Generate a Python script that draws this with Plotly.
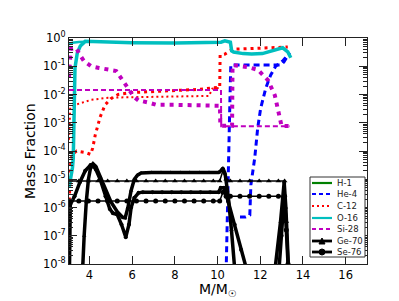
import plotly.graph_objects as go

# ---------------- data ----------------
h1_x = [3.04, 13.4]
h1_y = [1e-12, 1e-12]

he4a_x = [10.38, 10.40, 10.48, 10.57, 10.62, 11.0, 11.5, 12.0, 12.5, 12.91, 13.1, 13.29, 13.38]
he4a_y = [1e-9, 6.3e-9, 3.2e-6, 3.2e-3, 0.11, 0.11, 0.107, 0.107, 0.107, 0.11, 0.14, 0.25, 0.3]
he4b_x = [11.05, 11.3, 11.51, 11.53, 11.56, 11.74, 11.88, 12.02, 12.26, 12.49, 12.72, 13.05, 13.19, 13.29]
he4b_y = [4.6e-7, 4.6e-7, 5.4e-7, 1e-6, 6.3e-6, 5.6e-5, 6.5e-4, 3.3e-3, 1.7e-2, 4.9e-2, 0.1, 0.155, 0.2, 0.25]

c12a_x = [3.04, 3.1, 3.33, 3.7, 4.08, 4.5, 4.87, 5.5, 6.3, 7.0, 8.0, 9.0, 9.6, 9.75, 10.1]
c12a_y = [2.5e-4, 3.5e-3, 4.3e-3, 5.4e-3, 6.5e-3, 7.1e-3, 7.6e-3, 7.9e-3, 8.1e-3, 8.3e-3, 8.5e-3, 8.9e-3, 8.9e-3, 1.6e-2, 1.7e-2]
c12b_x = [3.04, 3.07, 3.12, 3.2, 3.4, 3.8, 4.05, 4.15, 4.27, 4.5, 4.73, 5.0, 5.34, 5.95, 7.0, 8.0, 9.0,
          10.1, 10.12, 10.35, 10.7, 11.5, 12.5, 13.29]
c12b_y = [1e-6, 1e-5, 4e-5, 7.9e-5, 1e-4, 8.9e-5, 7.6e-5, 1.26e-4, 3.7e-4, 1.6e-3, 4.3e-3, 7.1e-3, 1e-2, 1.17e-2,
          1.3e-2, 1.4e-2, 1.5e-2, 1.8e-2, 0.25, 0.27, 0.4, 0.42, 0.44, 0.48]

o16a_x = [3.04, 3.12, 3.2, 3.24, 3.28, 3.32, 3.43, 3.57, 3.8, 4.5, 6.0, 8.0, 10.0, 10.16, 10.34, 10.6,
          10.66, 10.75, 11.2, 11.6, 12.1, 12.7, 13.05, 13.29, 13.43]
o16a_y = [5e-6, 1e-5, 2.5e-5, 5.6e-5, 3.2e-3, 0.087, 0.30, 0.52, 0.76, 0.72, 0.68, 0.66, 0.68, 0.71, 0.79, 0.71,
          0.35, 0.32, 0.28, 0.27, 0.28, 0.38, 0.45, 0.32, 0.20]
o16b_x = [3.04, 3.2, 3.5, 3.8]
o16b_y = [0.6, 0.68, 0.72, 0.74]

si28a_x = [3.04, 4.0, 5.0, 6.0, 7.0, 8.0, 9.0, 10.16, 10.17, 11.0, 12.0, 13.0, 13.37]
si28a_y = [1.45e-2, 1.45e-2, 1.45e-2, 1.45e-2, 1.45e-2, 1.45e-2, 1.45e-2, 1.45e-2, 7.5e-4, 7.5e-4, 7.5e-4, 7.5e-4, 7.5e-4]
si28b_x = [3.04, 3.08, 3.12, 3.38, 3.52, 3.75, 4.08, 4.45, 4.87, 5.25, 5.48, 5.67, 5.86, 6.09, 6.32, 6.42, 6.84,
           7.12, 8.0, 9.0, 10.0, 10.11, 10.13, 10.68, 10.7, 11.0, 11.43, 11.9, 12.36, 12.68, 12.91, 13.0, 13.37]
si28b_y = [4e-2, 0.16, 0.41, 0.45, 0.27, 0.15, 0.1, 0.087, 0.079, 0.068, 0.038, 0.023, 0.013, 8.1e-3, 5.9e-3,
           5.9e-3, 5.0e-3, 4.3e-3, 4.3e-3, 4.3e-3, 4.3e-3, 4.0e-3, 7.9e-4, 7.9e-4, 0.11, 0.105, 0.093, 0.074,
           0.032, 9.5e-3, 1.5e-3, 7.6e-4, 7.6e-4]

thin_x = [3.05, 3.5, 3.95, 4.4, 4.85, 5.3, 5.75, 6.2, 6.65, 7.1, 7.55, 8.0, 8.45, 8.9, 9.35, 9.8, 10.1,
          10.25, 10.4, 10.6, 11.05, 11.5, 11.95, 12.4, 12.85, 13.14, 13.22, 13.3, 13.36]
ge70a_y = [8.7e-6] * 17 + [2.0e-5, 1.0e-5] + [8.7e-6] * 7 + [3.2e-7, 5e-9, 3.2e-10]
se76a_y = [1.7e-6] * 17 + [3.5e-6, 2.5e-6] + [2.5e-6] * 7 + [1.6e-7, 1e-8, 3.2e-10]

ge70b_x = [3.6, 3.68, 3.75, 3.85, 3.95, 4.05, 4.17, 4.3, 4.5, 4.75, 5.0, 5.3, 5.55, 5.67, 5.8, 5.95, 6.1, 6.25,
           6.42, 6.9, 7.35, 7.8, 8.25, 8.7, 9.15, 9.6, 10.05, 10.15, 10.25, 10.35, 10.5, 10.65, 10.8, 10.95,
           12.6, 12.72, 12.95, 13.12, 13.2, 13.3, 13.4]
ge70b_y = [3.2e-10, 1e-8, 1e-7, 1.6e-6, 1e-5, 2.5e-5, 3.5e-5, 2.8e-5, 1.26e-5, 4e-6, 1.6e-6, 7.1e-7, 4.5e-7,
           4.3e-7, 1e-6, 4e-6, 1e-5, 1.4e-5, 1.66e-5, 1.74e-5, 1.74e-5, 1.74e-5, 1.74e-5, 1.74e-5, 1.74e-5,
           1.74e-5, 1.74e-5, 2e-5, 2.5e-5, 1.6e-5, 2.5e-6, 1.6e-7, 6.3e-9, 3.2e-10, 3.2e-10, 1e-8, 3.2e-7,
           7.9e-6, 1e-6, 1e-8, 3.2e-10]

se76b_x = [3.04, 3.06, 3.1, 3.3, 3.55, 3.8, 4.05, 4.13, 4.3, 4.5, 4.75, 4.95, 5.1, 5.3, 5.5, 5.7, 5.85, 5.95,
           6.1, 6.3, 6.5, 6.95, 7.4, 7.85, 8.3, 8.75, 9.2, 9.65, 10.05, 10.15, 10.3, 10.5, 10.8, 11.1, 11.4,
           11.65, 12.75, 12.85, 13.0, 13.12, 13.2, 13.3, 13.4]
se76b_y = [3.2e-10, 3.2e-7, 1.26e-6, 2.5e-6, 7.9e-6, 2e-5, 3.2e-5, 3.3e-5, 2.2e-5, 1e-5, 2.5e-6, 8.9e-7,
           6.3e-7, 5.6e-7, 2.5e-7, 8.9e-8, 2.5e-7, 1e-6, 2.2e-6, 3.3e-6, 3.5e-6, 3.5e-6, 3.5e-6, 3.5e-6,
           3.5e-6, 3.5e-6, 3.5e-6, 3.5e-6, 3.5e-6, 5e-6, 5e-6, 1.6e-6, 2.5e-7, 3.2e-8, 5e-9, 3.2e-10,
           3.2e-10, 3.2e-9, 1e-7, 2.5e-6, 3.2e-7, 1e-8, 3.2e-10]

legend_names = ["H-1", "He-4", "C-12", "O-16", "Si-28", "Ge-70", "Se-76"]
x_ticks = [4, 6, 8, 10, 12, 14, 16]
y_exps = [0, -1, -2, -3, -4, -5, -6, -7, -8]

GREEN, BLUE, RED, CYAN, MAG, BLACK = "#008000", "#0000ff", "#ff0000", "#00bfbf", "#bf00bf", "#000000"

fig = go.Figure()


def add(x, y, color, width, dash="solid", symbol=None, msize=5):
    kw = dict(x=x, y=y, line=dict(color=color, width=width, dash=dash),
              showlegend=False, hoverinfo="skip")
    if symbol:
        kw["mode"] = "lines+markers"
        kw["marker"] = dict(symbol=symbol, size=msize, color=color)
    else:
        kw["mode"] = "lines"
    fig.add_trace(go.Scatter(**kw))


add(h1_x, h1_y, GREEN, 2)
add(he4a_x, he4a_y, BLUE, 3, "6px,4px")
add(he4b_x, he4b_y, BLUE, 3, "6px,4px")
add(c12a_x, c12a_y, RED, 2, "2px,3px")
add(c12b_x, c12b_y, RED, 3, "3px,4px")
add(o16a_x, o16a_y, CYAN, 3.5)
add(o16b_x, o16b_y, CYAN, 2.5)
add(si28a_x, si28a_y, MAG, 2, "5px,3px")
add(si28b_x, si28b_y, MAG, 4, "4px,5px")
add(thin_x, ge70a_y, BLACK, 1.5, "solid", "triangle-up", 5)
add(ge70b_x, ge70b_y, BLACK, 3.5, "solid", "triangle-up", 4)
add(thin_x, se76a_y, BLACK, 1.5, "solid", "circle", 5)
add(se76b_x, se76b_y, BLACK, 3.5, "solid", "circle", 4)

minor_vals = []
for e in range(-8, 0):
    for m in range(2, 10):
        minor_vals.append(m * 10 ** e)

FONT = "DejaVu Sans"
axis_common = dict(showline=True, linecolor="#222222", linewidth=1, mirror="ticks",
                   ticks="inside", ticklen=8, tickcolor="#222222", showgrid=False,
                   zeroline=False, tickfont=dict(family=FONT, size=11.5, color="black"))

fig.update_layout(
    width=399, height=301,
    margin=dict(l=61, r=40, t=30, b=45),
    paper_bgcolor="white", plot_bgcolor="white",
    showlegend=False,
    font=dict(family=FONT, color="black"),
    xaxis=dict(range=[3.04, 17.0], tickvals=x_ticks, ticktext=[str(v) for v in x_ticks], **axis_common),
    yaxis=dict(type="log", range=[-8, 0], tickvals=[10 ** e for e in y_exps],
               ticktext=["10<sup>%d</sup>" % e for e in y_exps],
               minor=dict(ticks="inside", ticklen=4, tickcolor="#222222", tickvals=minor_vals, showgrid=False),
               **axis_common),
)

# axis titles
fig.add_annotation(text="Mass Fraction", xref="paper", yref="paper", x=-0.131, y=0.5,
                   textangle=-90, showarrow=False, font=dict(family=FONT, size=14, color="black"),
                   xanchor="center", yanchor="middle")
fig.add_annotation(text="M/M<sub>☉</sub>", xref="paper", yref="paper", x=0.5, y=-0.115,
                   showarrow=False, font=dict(family=FONT, size=14, color="black"),
                   xanchor="center", yanchor="middle")


# legend (drawn manually to match compact spacing)
def px2x(p):
    return (p - 61) / 298.0


def py2y(p):
    return (256 - p) / 226.0


fig.add_shape(type="rect", xref="paper", yref="paper", x0=px2x(302), x1=px2x(357), y0=py2y(249), y1=py2y(169),
              line=dict(color="#333333", width=1), fillcolor="white", layer="above")
leg_styles = [(GREEN, "solid", None), (BLUE, "4px,3px", None), (RED, "2px,3px", None), (CYAN, "solid", None),
              (MAG, "4px,3px", None), (BLACK, "solid", "tri"), (BLACK, "solid", "circ")]
leg_py = [175, 186, 198, 210, 221, 233, 244]
for name, (col, dash, mk), p in zip(legend_names, leg_styles, leg_py):
    yy = py2y(p)
    fig.add_shape(type="line", xref="paper", yref="paper", x0=px2x(304), x1=px2x(324), y0=yy, y1=yy,
                  line=dict(color=col, width=2.2 if mk is None else 2.8, dash=dash), layer="above")
    cx = px2x(314)
    dx, dy = 3 / 298.0, 3 / 226.0
    if mk == "tri":
        fig.add_shape(type="path", xref="paper", yref="paper",
                      path="M %f,%f L %f,%f L %f,%f Z" % (cx - dx, yy - dy, cx + dx, yy - dy, cx, yy + dy),
                      fillcolor=col, line=dict(color=col, width=1), layer="above")
    elif mk == "circ":
        fig.add_shape(type="circle", xref="paper", yref="paper", x0=cx - dx, x1=cx + dx, y0=yy - dy, y1=yy + dy,
                      fillcolor=col, line=dict(color=col, width=1), layer="above")
    fig.add_annotation(text=name, xref="paper", yref="paper", x=px2x(327), y=yy, xanchor="left",
                       yanchor="middle", showarrow=False, font=dict(family=FONT, size=8.5, color="#222222"))

fig.write_html("out.html")
